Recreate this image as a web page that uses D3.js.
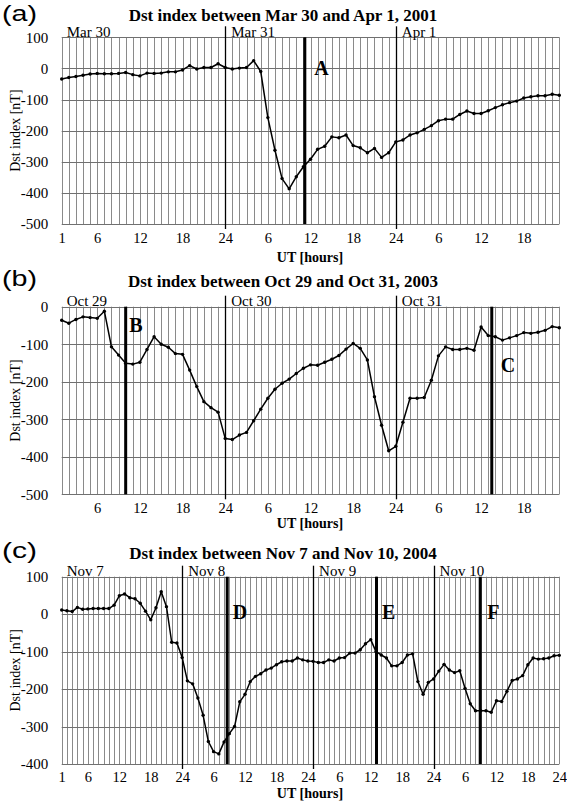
<!DOCTYPE html>
<html><head><meta charset="utf-8">
<script src="https://cdn.jsdelivr.net/npm/d3@7"></script>
<style>body{margin:0;background:#fff}svg{display:block}</style>
</head><body>
<svg id="chart" width="567" height="804"></svg>
<script>
// ---------- DATA ----------
// Panel (a): hourly Dst, Mar 30 - Apr 1, 2001 (hours 1..71)
const dstA = [-34,-29,-26,-22,-18,-16,-17,-17,-16,-13,-20,-24,-15,-16,-15,-11,-11,-5,9,-2,3,3,15,3,
  -2,1,3,25,-10,-158,-263,-354,-387,-348,-316,-292,-260,-250,-220,-223,-214,-248,-255,-271,-257,-286,-271,-236,
  -230,-214,-207,-196,-184,-168,-163,-163,-148,-137,-145,-145,-136,-126,-117,-110,-105,-95,-91,-88,-88,-83,-86];
// Panel (b): hourly Dst, Oct 29 - Oct 31, 2003
const dstB = [-36,-44,-34,-27,-29,-31,-12,-107,-129,-151,-153,-148,-114,-80,-100,-108,-125,-127,-169,-213,-253,-269,-281,-351,
  -354,-342,-335,-304,-273,-244,-220,-204,-193,-178,-164,-155,-156,-148,-140,-130,-113,-98,-111,-142,-240,-316,-384,-372,
  -308,-244,-244,-242,-196,-131,-107,-114,-114,-111,-116,-54,-77,-80,-89,-83,-77,-69,-71,-68,-63,-53,-56];
// Panel (c): hourly Dst, Nov 7 - Nov 10, 2004
const dstC = [11,9,7,18,13,14,15,15,15,15,24,49,54,44,41,29,8,-15,17,60,20,-75,-77,-116,
  -178,-186,-224,-270,-340,-367,-373,-341,-319,-300,-234,-214,-180,-166,-159,-149,-144,-135,-127,-125,-125,-117,-122,-125,
  -126,-129,-129,-122,-125,-117,-116,-104,-104,-95,-79,-68,-100,-109,-117,-138,-138,-129,-109,-106,-180,-214,-182,-173,
  -152,-134,-149,-156,-151,-198,-239,-258,-258,-258,-262,-231,-233,-206,-177,-173,-164,-135,-117,-120,-119,-117,-111,-110];

const titleA = "Dst index between Mar 30 and Apr 1, 2001";
const titleB = "Dst index between Oct 29 and Oct 31, 2003";
const titleC = "Dst index between Nov 7 and Nov 10, 2004";
const panelTags = ["(a)","(b)","(c)"];

const yTicksA = [100,0,-100,-200,-300,-400,-500];
const yTicksB = [0,-100,-200,-300,-400,-500];
const yTicksC = [100,0,-100,-200,-300,-400];

const xTickHoursA = [1,6,12,18,24,30,36,42,48,54,60,66];
const xTickLabelsA = ["1","6","12","18","24","6","12","18","24","6","12","18"];
const xTickHoursB = [6,12,18,24,30,36,42,48,54,60,66];
const xTickLabelsB = ["6","12","18","24","6","12","18","24","6","12","18"];
const xTickHoursC = [1,6,12,18,24,30,36,42,48,54,60,66,72,78,84,90,96];
const xTickLabelsC = ["1","6","12","18","24","6","12","18","24","6","12","18","24","6","12","18","24"];

const dayNamesA = ["Mar 30","Mar 31","Apr 1"];
const dayHoursA = [1,24,48];
const dayNamesB = ["Oct 29","Oct 30","Oct 31"];
const dayHoursB = [1,24,48];
const dayNamesC = ["Nov 7","Nov 8","Nov 9","Nov 10"];
const dayHoursC = [1,24,49,72];

const eventNamesA = ["A"]; const eventHoursA = [35.2]; const eventLevelA = [0];
const eventNamesB = ["B","C"]; const eventHoursB = [10,61.5]; const eventLevelB = [-50,-155];
const eventNamesC = ["D","E","F"]; const eventHoursC = [32.6,61.1,80.9]; const eventLevelC = [5,5,5];

const xLabel = "UT [hours]";
const yLabel = "Dst index [nT]";

// ---------- LAYOUT ----------
const X0 = 61.7, X1 = 559.3;
const SERIF = "'Liberation Serif','Times New Roman',serif";
const panels = [
  {tag:panelTags[0], title:titleA, values:dstA, yDom:[-500,100], yTicks:yTicksA, top:37.3, bottom:224,
   xth:xTickHoursA, xtl:xTickLabelsA, dn:dayNamesA, dh:dayHoursA, en:eventNamesA, eh:eventHoursA, el:eventLevelA,
   eDx:[9.5], titleY:20.6, tagY:20.5, xPad:9, xLabY:261.5},
  {tag:panelTags[1], title:titleB, values:dstB, yDom:[-500,0], yTicks:yTicksB, top:306.7, bottom:494.3,
   xth:xTickHoursB, xtl:xTickLabelsB, dn:dayNamesB, dh:dayHoursB, en:eventNamesB, eh:eventHoursB, el:eventLevelB,
   eDx:[3.5,9], titleY:287.3, tagY:286, xPad:8, xLabY:528},
  {tag:panelTags[2], title:titleC, values:dstC, yDom:[-400,100], yTicks:yTicksC, top:576.7, bottom:764,
   xth:xTickHoursC, xtl:xTickLabelsC, dn:dayNamesC, dh:dayHoursC, en:eventNamesC, eh:eventHoursC, el:eventLevelC,
   eDx:[5.5,5.5,7], titleY:558.6, tagY:558, xPad:8, xLabY:798}
];

const svg = d3.select("#chart");
const px = v => Math.round(v) + 0.5;

panels.forEach(p => {
  const n = p.values.length;
  const x = d3.scaleLinear().domain([1, n]).range([X0, X1]);
  const y = d3.scaleLinear().domain(p.yDom).range([p.bottom, p.top]);
  const g = svg.append("g");

  // vertical hourly grid
  g.append("g").selectAll("line").data(d3.range(1, n + 1)).join("line")
    .attr("x1", d => px(x(d))).attr("x2", d => px(x(d)))
    .attr("y1", p.top).attr("y2", p.bottom)
    .attr("stroke", "#8a8a8a").attr("stroke-width", 1);
  // horizontal grid
  g.append("g").selectAll("line").data(p.yTicks).join("line")
    .attr("x1", X0).attr("x2", X1)
    .attr("y1", d => px(y(d))).attr("y2", d => px(y(d)))
    .attr("stroke", "#707070").attr("stroke-width", 1);

  // y axis
  const ya = g.append("g").attr("transform", `translate(${X0},0)`)
    .call(d3.axisLeft(y).tickValues(p.yTicks).tickSize(0).tickPadding(13.5).tickFormat(d => String(d)));
  ya.select(".domain").remove();
  ya.attr("font-family", SERIF).attr("font-size", 15);
  ya.selectAll("text").attr("font-family", SERIF).attr("font-size", 15).attr("fill", "#000");

  // x axis
  const xa = g.append("g").attr("transform", `translate(0,${p.bottom})`)
    .call(d3.axisBottom(x).tickValues(p.xth).tickSize(0).tickPadding(p.xPad).tickFormat((d, i) => p.xtl[i]));
  xa.select(".domain").remove();
  xa.attr("font-family", SERIF).attr("font-size", 14);
  xa.selectAll("text").attr("font-family", SERIF).attr("font-size", 14.5).attr("fill", "#000");

  // day dividers and labels
  p.dh.forEach((h, i) => {
    if (i > 0) {
      g.append("line").attr("x1", px(x(h))).attr("x2", px(x(h)))
        .attr("y1", p.top - 11).attr("y2", p.bottom + 5)
        .attr("stroke", "#000").attr("stroke-width", 1.3);
    }
    g.append("text").attr("x", x(h) + (i > 0 ? 6 : 5)).attr("y", p.top - 0.5)
      .attr("font-family", SERIF).attr("font-size", 15).text(p.dn[i]);
  });

  // event lines and letters
  p.eh.forEach((h, i) => {
    g.append("line").attr("x1", x(h)).attr("x2", x(h))
      .attr("y1", p.top).attr("y2", p.bottom)
      .attr("stroke", "#000").attr("stroke-width", 3);
    g.append("text").attr("x", x(h) + p.eDx[i]).attr("y", y(p.el[i]) + 7)
      .attr("font-family", SERIF).attr("font-weight", "bold").attr("font-size", 20).text(p.en[i]);
  });

  // data line
  const line = d3.line().x((d, i) => x(i + 1)).y(d => y(d));
  g.append("path").datum(p.values).attr("d", line)
    .attr("fill", "none").attr("stroke", "#000").attr("stroke-width", 1.5).attr("stroke-linejoin", "round");
  g.append("g").selectAll("circle").data(p.values).join("circle")
    .attr("cx", (d, i) => x(i + 1)).attr("cy", d => y(d)).attr("r", 1.7).attr("fill", "#000");

  // title, tag, axis labels
  g.append("text").attr("x", 283).attr("y", p.titleY).attr("text-anchor", "middle")
    .attr("font-family", SERIF).attr("font-weight", "bold").attr("font-size", 17).text(p.title);
  g.append("text").attr("x", 2).attr("y", p.tagY)
    .attr("font-family", "'Liberation Sans',Arial,sans-serif").attr("font-size", 22)
    .attr("textLength", 35).attr("lengthAdjust", "spacingAndGlyphs").text(p.tag);
  g.append("text").attr("x", 310).attr("y", p.xLabY).attr("text-anchor", "middle")
    .attr("font-family", SERIF).attr("font-weight", "bold").attr("font-size", 14).text(xLabel);
  g.append("text").attr("transform", `translate(20,${(p.top + p.bottom) / 2}) rotate(-90)`)
    .attr("text-anchor", "middle").attr("font-family", SERIF).attr("font-size", 14).text(yLabel);
});
</script>
</body></html>
